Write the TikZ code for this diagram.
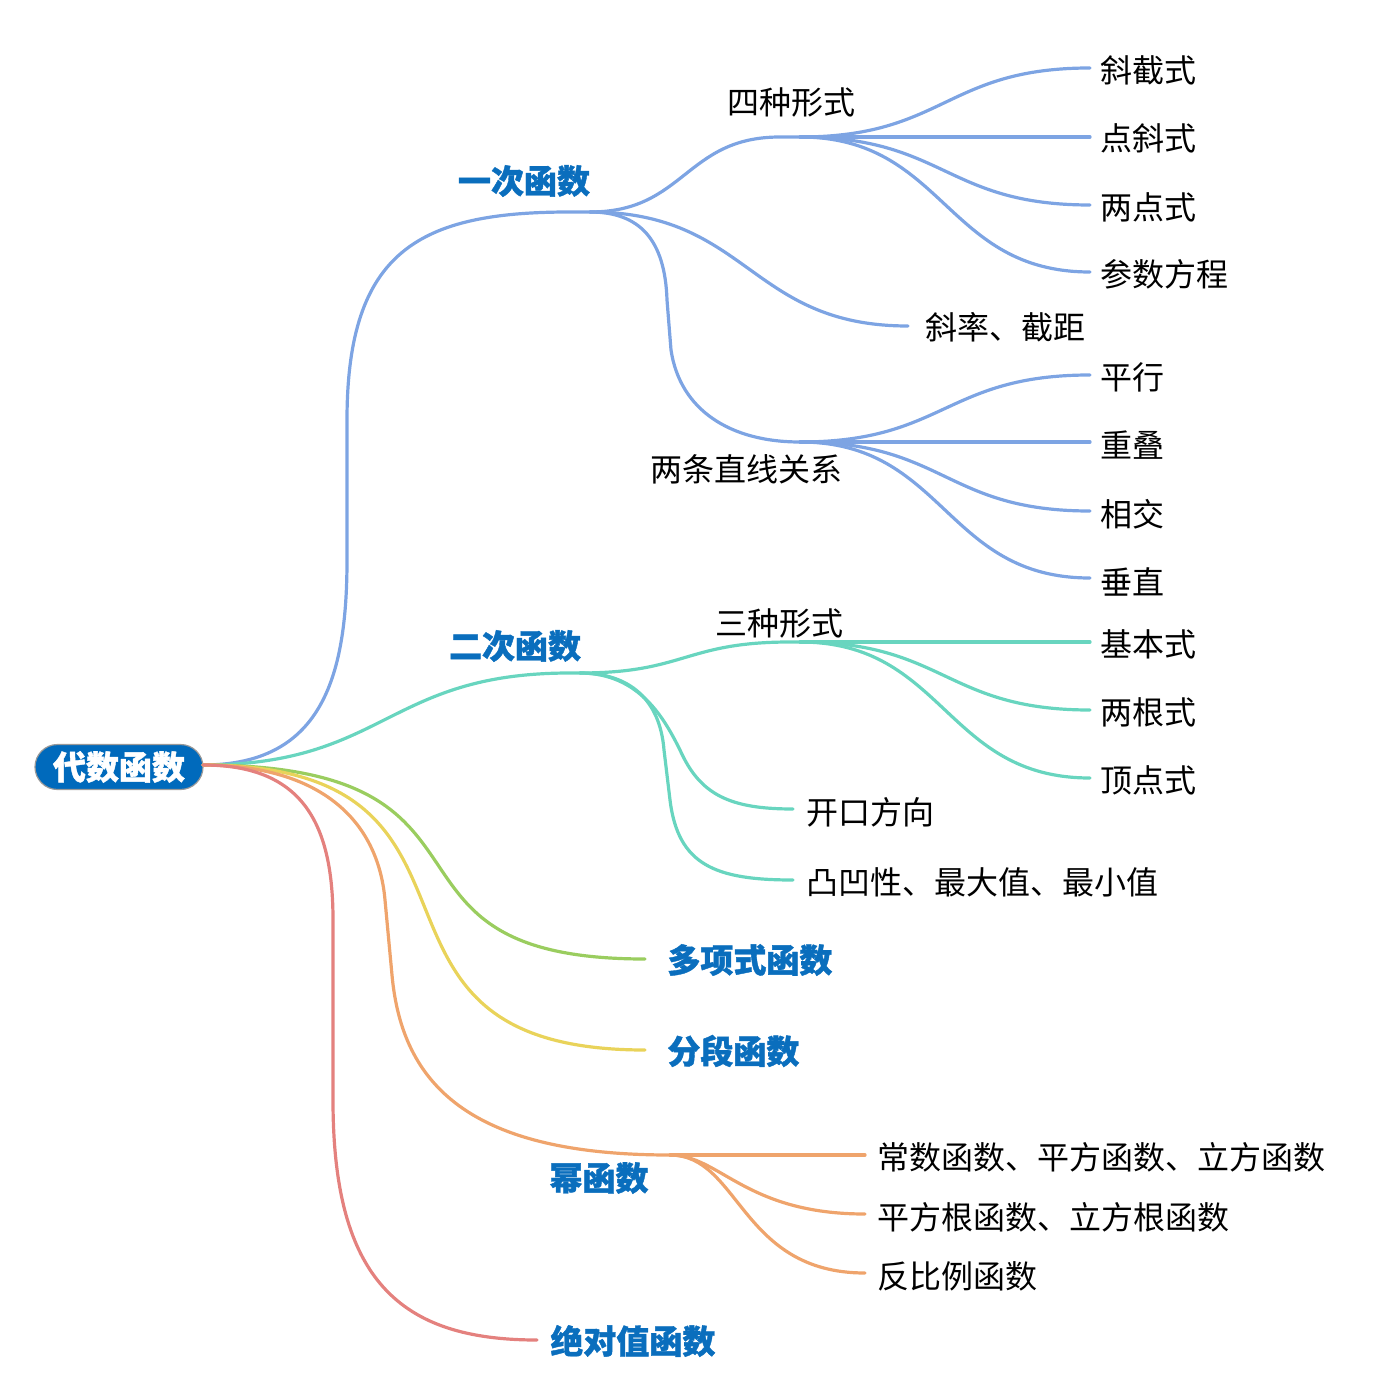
\documentclass[tikz,border=0pt]{standalone}
\usepackage{fontspec}
\setmainfont{Noto Sans CJK SC}[BoldFeatures={FakeBold=1.2}]
\definecolor{cBlue}{RGB}{125,164,227}
\definecolor{cTeal}{RGB}{104,213,191}
\definecolor{cGreen}{RGB}{154,205,95}
\definecolor{cYellow}{RGB}{233,211,90}
\definecolor{cOrange}{RGB}{239,164,108}
\definecolor{cRed}{RGB}{228,129,126}
\definecolor{cLabel}{RGB}{10,110,189}
\definecolor{cRoot}{RGB}{0,106,188}
\begin{document}
\begin{tikzpicture}[x=0.5pt,y=-0.5pt,
  link/.style={line width=1.6pt,line cap=round},
  leaf/.style={anchor=west,inner sep=0pt,font=\fontsize{16}{18}\selectfont,text=black},
  sub/.style={inner sep=0pt,font=\fontsize{16}{18}\selectfont,text=black},
  main/.style={inner sep=0pt,font=\fontsize{16.5}{18}\selectfont\bfseries,text=cLabel},
  rootbox/.style={draw=gray!80,line width=0.6pt,fill=cRoot,rounded corners=11.25pt,minimum width=84pt,minimum height=22.5pt,inner sep=0pt,text=white,font=\fontsize{16.5}{18}\selectfont\bfseries}]
\useasboundingbox (0,0) rectangle (1400,1400);

% root
\node[rootbox] (root) at (119,767) {代数函数};
\coordinate (r0) at (203,765);

% hubs
\coordinate (h1) at (590,212);
\coordinate (h11) at (800,137);
\coordinate (h13) at (800,442);
\coordinate (h2) at (580,673);
\coordinate (h21) at (800,642);
\coordinate (h5) at (670,1155);

% line ends
\coordinate (e111) at (1090,68);
\coordinate (e112) at (1090,137);
\coordinate (e113) at (1090,205);
\coordinate (e114) at (1090,272);
\coordinate (e12) at (908,326);
\coordinate (e131) at (1090,375);
\coordinate (e132) at (1090,442);
\coordinate (e133) at (1090,511);
\coordinate (e134) at (1090,578);
\coordinate (e211) at (1090,642);
\coordinate (e212) at (1090,710);
\coordinate (e213) at (1090,778);
\coordinate (e22) at (793,809);
\coordinate (e23) at (793,880);
\coordinate (e3) at (645,959);
\coordinate (e4) at (645,1050);
\coordinate (e51) at (865,1155);
\coordinate (e52) at (865,1214);
\coordinate (e53) at (865,1273);
\coordinate (e6) at (537,1340);

% level 1 links
\draw[link,cBlue] (r0) .. controls (320,765) and (347,680) .. (347,560) -- (347,420) .. controls (347,250) and (420,212) .. (570,212) -- (h1);
\draw[link,cTeal] (r0) .. controls (386,765) and (386,673) .. (570,673) -- (h2);
\draw[link,cGreen] (r0) .. controls (530,765) and (350,959) .. (e3);
\draw[link,cYellow] (r0) .. controls (530,765) and (320,1050) .. (e4);
\draw[link,cOrange] (r0) .. controls (320,765) and (378,820) .. (385,900) -- (392,975) .. controls (402,1085) and (470,1155) .. (h5);
\draw[link,cRed] (r0) .. controls (300,765) and (333,820) .. (333,920) -- (333,1100) .. controls (333,1280) and (400,1340) .. (e6);

% 一次函数 branch
\draw[link,cBlue] (h1) .. controls (685,212) and (685,137) .. (780,137) -- (h11);
\draw[link,cBlue] (h1) .. controls (749,212) and (749,326) .. (e12);
\draw[link,cBlue] (h1) .. controls (640,212) and (665,240) .. (667,300) -- (671,350) .. controls (680,410) and (730,442) .. (h13);
\draw[link,cBlue] (h11) .. controls (945,137) and (945,68) .. (e111);
\draw[link,cBlue] (h11) -- (e112);
\draw[link,cBlue] (h11) .. controls (945,137) and (945,205) .. (e113);
\draw[link,cBlue] (h11) .. controls (945,137) and (945,272) .. (e114);
\draw[link,cBlue] (h13) .. controls (945,442) and (945,375) .. (e131);
\draw[link,cBlue] (h13) -- (e132);
\draw[link,cBlue] (h13) .. controls (945,442) and (945,511) .. (e133);
\draw[link,cBlue] (h13) .. controls (945,442) and (945,578) .. (e134);

% 二次函数 branch
\draw[link,cTeal] (h2) .. controls (685,673) and (685,642) .. (790,642) -- (h21);
\draw[link,cTeal] (h2) .. controls (640,673) and (665,720) .. (680,750) .. controls (700,795) and (730,809) .. (e22);
\draw[link,cTeal] (h2) .. controls (630,673) and (660,700) .. (664,750) -- (670,800) .. controls (678,865) and (715,880) .. (e23);
\draw[link,cTeal] (h21) -- (e211);
\draw[link,cTeal] (h21) .. controls (945,642) and (945,710) .. (e212);
\draw[link,cTeal] (h21) .. controls (945,642) and (945,778) .. (e213);

% 幂函数 branch
\draw[link,cOrange] (h5) -- (e51);
\draw[link,cOrange] (h5) .. controls (720,1155) and (745,1214) .. (e52);
\draw[link,cOrange] (h5) .. controls (740,1155) and (740,1273) .. (e53);

% labels
\node[main] (n1) at (524,181) {一次函数};
\node[main] (n2) at (515,646) {二次函数};
\node[main,anchor=west] (n3) at (667,960) {多项式函数};
\node[main,anchor=west] (n4) at (667,1051) {分段函数};
\node[main] (n5) at (599,1178) {幂函数};
\node[main,anchor=west] (n6) at (550,1341) {绝对值函数};

\node[sub] (n11) at (791,102) {四种形式};
\node[leaf] (n111) at (1100,70) {斜截式};
\node[leaf] (n112) at (1100,138) {点斜式};
\node[leaf] (n113) at (1100,207) {两点式};
\node[leaf] (n114) at (1100,274) {参数方程};
\node[leaf] (n12) at (925,327) {斜率、截距};
\node[sub] (n13) at (746,469) {两条直线关系};
\node[leaf] (n131) at (1100,377) {平行};
\node[leaf] (n132) at (1100,445) {重叠};
\node[leaf] (n133) at (1100,514) {相交};
\node[leaf] (n134) at (1100,582) {垂直};

\node[sub] (n21) at (779,623) {三种形式};
\node[leaf] (n211) at (1100,644) {基本式};
\node[leaf] (n212) at (1100,712) {两根式};
\node[leaf] (n213) at (1100,780) {顶点式};
\node[leaf] (n22) at (806,812) {开口方向};
\node[leaf] (n23) at (806,882) {凸凹性、最大值、最小值};

\node[leaf] (n51) at (877,1157) {常数函数、平方函数、立方函数};
\node[leaf] (n52) at (877,1217) {平方根函数、立方根函数};
\node[leaf] (n53) at (877,1276) {反比例函数};
\end{tikzpicture}
\end{document}
